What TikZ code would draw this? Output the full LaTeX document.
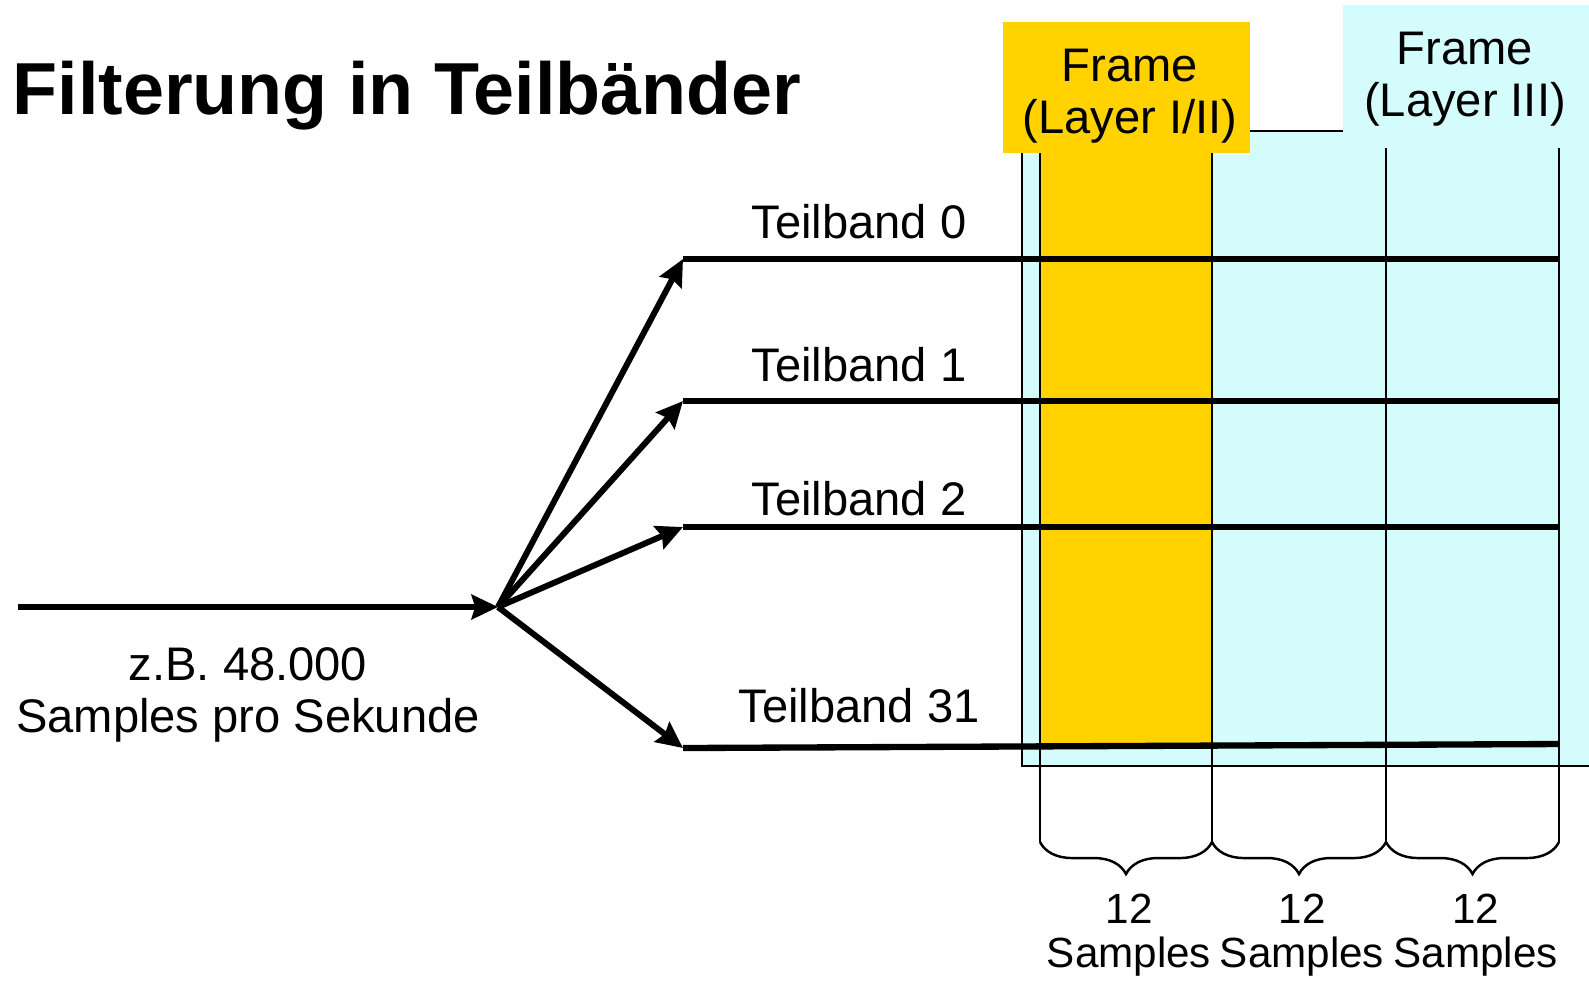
\documentclass[tikz,border=0pt]{standalone}
\usepackage{fontspec}
\setmainfont{Liberation Sans}
\usetikzlibrary{arrows.meta,decorations.pathreplacing}
\definecolor{frameorange}{RGB}{255,210,0}
\definecolor{framecyan}{RGB}{212,252,252}

\begin{document}
\begin{tikzpicture}[x=0.01cm, y=-0.01cm,
    band/.style={line width=1.8pt},
    split/.style={line width=1.7pt, -{Stealth[length=7.5pt,width=7pt,inset=1pt]}},
    thinline/.style={line width=0.7pt},
    txt/.style={align=center, inner sep=0pt, font=\fontsize{13.4pt}{14.8pt}\selectfont},
    small/.style={align=center, inner sep=0pt, font=\fontsize{12pt}{12.4pt}\selectfont}]
  \useasboundingbox (0,0) rectangle (1589,990);

  % title
  \node[anchor=base west, inner sep=0pt, font=\fontsize{20.95pt}{25pt}\selectfont\bfseries] (title) at (12,114) {Filterung in Teilbänder};

  % frames
  \draw[thinline, fill=framecyan] (1022,131) rectangle (1620,766);
  \fill[frameorange] (1040,153) rectangle (1212,747);
  \fill[frameorange] (1003,22) rectangle (1250,153);
  \fill[framecyan] (1343,5) rectangle (1620,137);
  \node[txt] (frame12) at (1130,96) {Frame\\(Layer I/II)};
  \node[txt] (frame3) at (1465,79) {Frame\\(Layer III)};

  % sample columns
  \foreach \x/\y in {1040/153, 1212/153, 1386/148, 1559/148}
    \draw[thinline] (\x,\y) -- (\x,842);
  \foreach \a/\b in {1040/1212, 1212/1386, 1386/1559} {
    \draw[thinline, decorate, decoration={brace, mirror, amplitude=0.32cm}] (\a,842) -- (\b,842);
    \node[small] (cnt\a) at ({(\a+\b)/2+3},935) {12\\Samples};
  }

  % input
  \coordinate (in) at (18,607);
  \coordinate (fork) at (498,607);
  \draw[split] (in) -- (fork);
  \node[txt] (rate) at (248,695) {z.B. 48.000\\Samples pro Sekunde};

  % subbands
  \foreach \n/\y/\ye/\t in {0/259/259/238, 1/401/401/381, 2/527/527/515, 31/748/744/722} {
    \coordinate (b\n) at (683,\y);
    \coordinate (e\n) at (1559,\ye);
    \draw[band] (b\n) -- (e\n);
    \draw[split] (fork) -- (b\n);
    \node[txt, anchor=base] (lbl\n) at (859,\t) {Teilband \n};
  }
\end{tikzpicture}
\end{document}
